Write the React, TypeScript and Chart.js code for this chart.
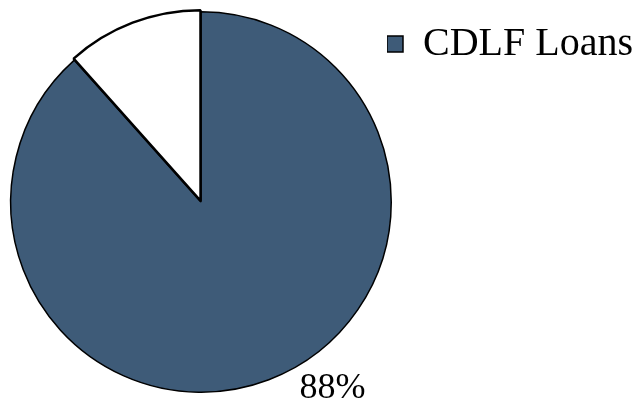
import React, { useEffect, useRef } from "react";
import { Chart, registerables } from "chart.js";

Chart.register(...registerables);

const categories = ["CDLF Loans", "Other"];
const values = [88.4, 11.6];
const sliceColors = ["#3e5b78", "#ffffff"];
const sliceOffsets = [0, 5];
const sliceBorders = [1.5, 2.5];

const FONT = "'Liberation Serif', 'Times New Roman', serif";

const pctLabelPlugin = {
  id: "pctLabel",
  afterDatasetsDraw(chart: any) {
    const meta = chart.getDatasetMeta(0);
    const arc = meta.data[0];
    if (!arc) return;
    const { x, y, startAngle, endAngle, outerRadius } = arc.getProps(
      ["x", "y", "startAngle", "endAngle", "outerRadius"],
      true
    );
    const total = values.reduce((a, b) => a + b, 0);
    const text = Math.round((values[0] / total) * 100) + "%";
    const a = startAngle + (endAngle - startAngle) * 0.455;
    const r = outerRadius * 1.2;
    const ctx = chart.ctx;
    ctx.save();
    ctx.font = `36px ${FONT}`;
    ctx.fillStyle = "#000";
    ctx.textAlign = "center";
    ctx.textBaseline = "middle";
    ctx.fillText(text, x + Math.cos(a) * r, y + Math.sin(a) * r);
    ctx.restore();
  },
};

// Let the pie extend a little under the legend's left margin, as in the reference.
const pieAreaPlugin = {
  id: "pieArea",
  afterLayout(chart: any) {
    const a = chart.chartArea;
    a.right = a.right + 9;
    a.width = a.right - a.left;
  },
};

export default function App() {
  const ref = useRef<HTMLCanvasElement>(null);
  useEffect(() => {
    document.body.style.margin = "0";
    const chart = new Chart(ref.current!, {
      type: "pie",
      data: {
        labels: categories,
        datasets: [
          {
            data: values,
            backgroundColor: sliceColors,
            borderColor: "#000000",
            borderWidth: sliceBorders,
            offset: sliceOffsets,
            hoverOffset: 0,
          },
        ],
      },
      options: {
        animation: false,
        responsive: true,
        maintainAspectRatio: false,
        layout: { padding: { top: 8, bottom: 13, left: 6, right: 0 } },
        plugins: {
          tooltip: { enabled: false },
          legend: {
            position: "right",
            align: "start",
            maxWidth: 249,
            title: { display: true, text: " ", padding: 0, font: { size: 16, lineHeight: 1 } },
            labels: {
              padding: 0,
              boxWidth: 16,
              boxHeight: 16,
              color: "#000",
              font: { family: FONT, size: 40 },
              filter: (item: any) => item.index === 0,
            },
          },
        },
      },
      plugins: [pieAreaPlugin, pctLabelPlugin],
    });
    return () => chart.destroy();
  }, []);
  return (
    <div style={{ width: 636, height: 409, position: "relative" }}>
      <canvas ref={ref} />
    </div>
  );
}
